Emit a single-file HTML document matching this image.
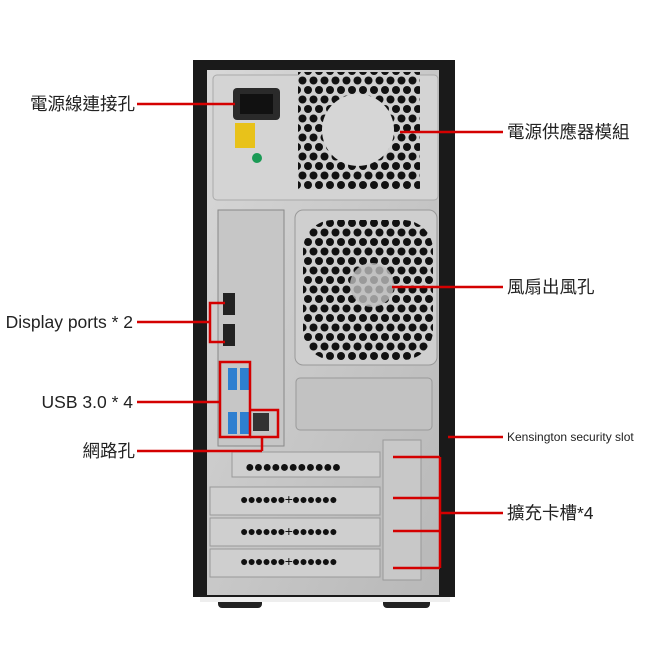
<!DOCTYPE html>
<html><head><meta charset="utf-8"><style>
html,body{margin:0;padding:0;background:#fff;width:650px;height:650px;overflow:hidden}
svg{display:block}
text{font-family:"Liberation Sans","Noto Sans CJK TC",sans-serif;fill:#222}
</style></head><body>
<svg width="650" height="650" viewBox="0 0 650 650">
<defs>
<pattern id="hex" width="11" height="19" patternUnits="userSpaceOnUse">
<rect width="11" height="19" fill="#cfcfcf"/>
<circle cx="5.5" cy="4.5" r="4" fill="#111"/>
<circle cx="0" cy="14" r="4" fill="#111"/>
<circle cx="11" cy="14" r="4" fill="#111"/>
</pattern>
<linearGradient id="met" x1="0" x2="1" y1="0" y2="1">
<stop offset="0" stop-color="#d8d8d8"/><stop offset="1" stop-color="#b8b8b8"/>
</linearGradient>
</defs>
<rect x="218" y="592" width="44" height="16" rx="4" fill="#222"/>
<rect x="383" y="592" width="47" height="16" rx="4" fill="#222"/>
<rect x="200" y="596" width="250" height="6" fill="#eee"/>
<rect x="193" y="60" width="262" height="537" fill="#1a1a1a"/>
<rect x="207" y="70" width="232" height="525" fill="url(#met)"/>
<rect x="213" y="75" width="225" height="125" rx="4" fill="#d4d4d4" stroke="#aaa"/>
<rect x="298" y="72" width="122" height="118" fill="url(#hex)"/>
<circle cx="358" cy="130" r="36" fill="#d6d6d6"/>
<rect x="233" y="88" width="47" height="32" rx="4" fill="#2a2a2a"/>
<rect x="240" y="94" width="33" height="20" fill="#111"/>
<rect x="235" y="123" width="20" height="25" fill="#e8c21a"/>
<circle cx="257" cy="158" r="5" fill="#1a9a55"/>
<rect x="218" y="210" width="66" height="236" fill="#c6c6c6" stroke="#888"/>
<rect x="223" y="293" width="12" height="22" fill="#222"/>
<rect x="223" y="324" width="12" height="22" fill="#222"/>
<rect x="228" y="368" width="9" height="22" fill="#2e7fd0"/>
<rect x="240" y="368" width="9" height="22" fill="#2e7fd0"/>
<rect x="228" y="412" width="9" height="22" fill="#2e7fd0"/>
<rect x="240" y="412" width="9" height="22" fill="#2e7fd0"/>
<rect x="253" y="413" width="16" height="18" fill="#333"/>
<rect x="295" y="210" width="142" height="155" rx="8" fill="#cfcfcf" stroke="#999"/>
<rect x="303" y="220" width="130" height="140" rx="30" fill="url(#hex)"/>
<circle cx="372" cy="285" r="22" fill="#bdbdbd" opacity="0.8"/>
<rect x="296" y="378" width="136" height="52" rx="4" fill="#c2c2c2" stroke="#999"/>
<g fill="#cfcfcf" stroke="#999">
<rect x="232" y="452" width="148" height="25"/>
<rect x="210" y="487" width="170" height="28"/>
<rect x="210" y="518" width="170" height="28"/>
<rect x="210" y="549" width="170" height="28"/>
</g>
<g>
<text x="245" y="472" font-size="16" style="fill:#111" letter-spacing="-1">●●●●●●●●●●●</text>
<text x="240" y="504" font-size="14" style="fill:#111" letter-spacing="-1">●●●●●●+●●●●●●</text>
<text x="240" y="536" font-size="14" style="fill:#111" letter-spacing="-1">●●●●●●+●●●●●●</text>
<text x="240" y="566" font-size="14" style="fill:#111" letter-spacing="-1">●●●●●●+●●●●●●</text>
</g>
<rect x="383" y="440" width="38" height="140" fill="#c8c8c8" stroke="#999"/>
<g stroke="#d40000" stroke-width="2.5" fill="none">
<line x1="137" y1="104" x2="235" y2="104"/>
<line x1="400" y1="132" x2="503" y2="132"/>
<line x1="392" y1="287" x2="503" y2="287"/>
<line x1="137" y1="322" x2="210" y2="322"/>
<polyline points="225,303 210,303 210,342 225,342"/>
<line x1="137" y1="402" x2="220" y2="402"/>
<rect x="220" y="362" width="30" height="75"/>
<line x1="137" y1="451" x2="262" y2="451"/>
<polyline points="250,410 278,410 278,437 250,437"/>
<line x1="262" y1="437" x2="262" y2="451"/>
<line x1="448" y1="437" x2="503" y2="437"/>
<line x1="440" y1="513" x2="503" y2="513"/>
<line x1="440" y1="457" x2="440" y2="568"/>
<line x1="393" y1="457" x2="440" y2="457"/>
<line x1="393" y1="498" x2="440" y2="498"/>
<line x1="393" y1="531" x2="440" y2="531"/>
<line x1="393" y1="568" x2="440" y2="568"/>
</g>
<g font-size="17.5">
<text x="135" y="110" text-anchor="end">電源線連接孔</text>
<text x="133" y="328" text-anchor="end">Display ports * 2</text>
<text x="133" y="408" text-anchor="end">USB 3.0 * 4</text>
<text x="135" y="457" text-anchor="end">網路孔</text>
<text x="507" y="138">電源供應器模組</text>
<text x="507" y="293">風扇出風孔</text>
<text x="507" y="519">擴充卡槽*4</text>
</g>
<text x="507" y="441" font-size="12">Kensington security slot</text>
</svg>
</body></html>
